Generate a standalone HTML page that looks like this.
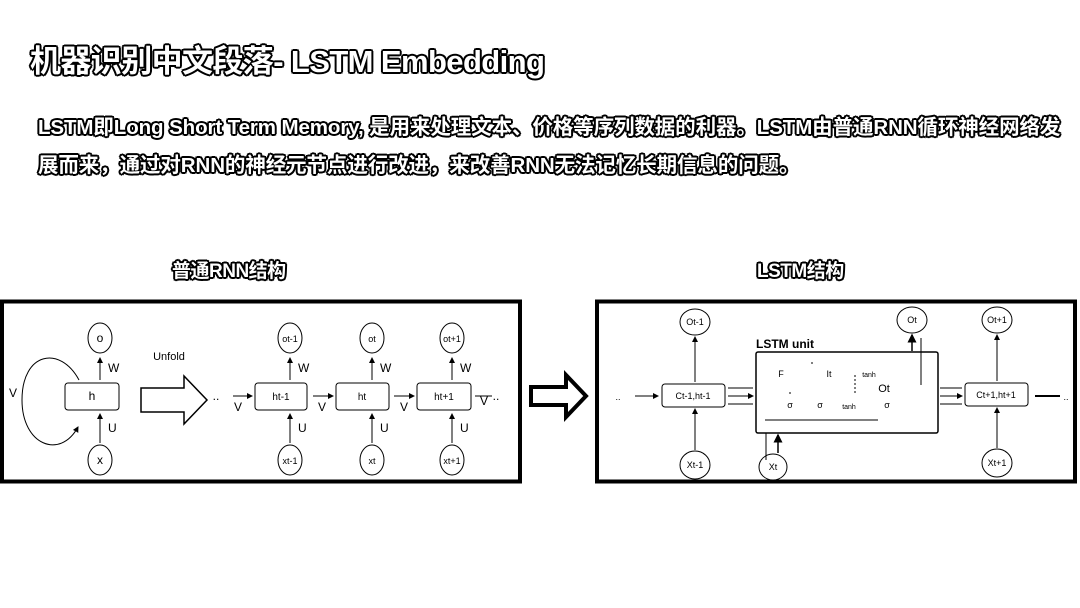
<!DOCTYPE html>
<html><head><meta charset="utf-8">
<style>
html,body{margin:0;padding:0;background:#fff;}
body{width:1080px;height:608px;position:relative;overflow:hidden;font-family:"Liberation Sans","Noto Sans CJK SC",sans-serif;}
.o{position:absolute;color:#fff;font-weight:bold;white-space:nowrap;
text-shadow:-2px 0 #000,2px 0 #000,0 -2px #000,0 2px #000,-1.5px -1.5px #000,1.5px 1.5px #000,-1.5px 1.5px #000,1.5px -1.5px #000;}
svg{position:absolute;left:0;top:0;}
</style></head><body>
<div class="o" style="left:30px;top:36px;font-size:31px;letter-spacing:-0.6px;">机器识别中文段落-&nbsp;LSTM Embedding</div>
<div class="o" style="left:38px;top:110px;font-size:20.5px;letter-spacing:-0.1px;">LSTM即Long Short Term Memory, 是用来处理文本、价格等序列数据的利器。LSTM由普通RNN循环神经网络发</div>
<div class="o" style="left:38px;top:148px;font-size:20.5px;letter-spacing:-0.1px;">展而来，通过对RNN的神经元节点进行改进，来改善RNN无法记忆长期信息的问题。</div>
<div class="o" style="left:172px;top:256px;font-size:19px;letter-spacing:-0.5px;">普通RNN结构</div>
<div class="o" style="left:757px;top:256px;font-size:19px;letter-spacing:-0.5px;">LSTM结构</div>
<svg width="1080" height="608" viewBox="0 0 1080 608" font-family="Liberation Sans, sans-serif">
<defs><marker id="a" markerWidth="6" markerHeight="6" refX="5" refY="3" orient="auto"><path d="M0,0L6,3L0,6z" fill="#000"/></marker></defs>
<g fill="none" stroke="#000">
<rect x="2" y="301.5" width="518" height="180" stroke-width="4"/>
<rect x="597" y="301.5" width="478" height="180" stroke-width="4"/>
<ellipse cx="100" cy="338" rx="12" ry="15"/>
<ellipse cx="100" cy="460" rx="12" ry="15"/>
<rect x="65" y="383" width="54" height="27" rx="3"/>
<path d="M79,380 C60,345 22,352 22,400 C22,445 60,460 78,427" marker-end="url(#a)"/>
<line x1="100" y1="380" x2="100" y2="358" marker-end="url(#a)"/>
<line x1="100" y1="443" x2="100" y2="414" marker-end="url(#a)"/>
<path d="M141,388 L184,388 L184,376 L207,400 L184,424 L184,412 L141,412 Z" stroke-width="1.5"/>
<g>
<rect x="255" y="383" width="52" height="27" rx="3"/>
<rect x="336" y="383" width="53" height="27" rx="3"/>
<rect x="417" y="383" width="54" height="27" rx="3"/>
<ellipse cx="290" cy="338" rx="12" ry="15"/><ellipse cx="290" cy="460" rx="12" ry="15"/>
<ellipse cx="372" cy="338" rx="12" ry="15"/><ellipse cx="372" cy="460" rx="12" ry="15"/>
<ellipse cx="452" cy="338" rx="12" ry="15"/><ellipse cx="452" cy="460" rx="12" ry="15"/>
<line x1="290" y1="380" x2="290" y2="358" marker-end="url(#a)"/><line x1="290" y1="443" x2="290" y2="414" marker-end="url(#a)"/>
<line x1="372" y1="380" x2="372" y2="358" marker-end="url(#a)"/><line x1="372" y1="443" x2="372" y2="414" marker-end="url(#a)"/>
<line x1="452" y1="380" x2="452" y2="358" marker-end="url(#a)"/><line x1="452" y1="443" x2="452" y2="414" marker-end="url(#a)"/>
<line x1="233" y1="396" x2="252" y2="396" marker-end="url(#a)"/>
<line x1="313" y1="396" x2="333" y2="396" marker-end="url(#a)"/>
<line x1="394" y1="396" x2="414" y2="396" marker-end="url(#a)"/>
<line x1="475" y1="396" x2="492" y2="396"/>
</g>
<path d="M531,387 L566,387 L566,375 L586,396 L566,417 L566,405 L531,405 Z" stroke-width="4"/>
<rect x="662" y="384" width="63" height="23" rx="3"/>
<rect x="965" y="383" width="63" height="23" rx="3"/>
<rect x="756" y="352" width="182" height="81" rx="2" stroke-width="1.5"/>
<ellipse cx="695" cy="322" rx="15" ry="13"/><ellipse cx="695" cy="465" rx="15" ry="14"/>
<ellipse cx="912" cy="320" rx="15" ry="13"/><ellipse cx="773" cy="467" rx="14" ry="13"/>
<ellipse cx="997" cy="320" rx="15" ry="13"/><ellipse cx="997" cy="463" rx="15" ry="14"/>
<line x1="695" y1="382" x2="695" y2="337" marker-end="url(#a)"/><line x1="695" y1="450" x2="695" y2="409" marker-end="url(#a)"/>
<line x1="997" y1="381" x2="997" y2="335" marker-end="url(#a)"/><line x1="997" y1="448" x2="997" y2="408" marker-end="url(#a)"/>
<line x1="912" y1="351" x2="912" y2="335" marker-end="url(#a)" stroke-width="1.5"/>
<line x1="778" y1="453" x2="778" y2="435" marker-end="url(#a)" stroke-width="1.5"/>
<line x1="766" y1="433" x2="766" y2="460"/>
<line x1="921" y1="338" x2="921" y2="385"/>
<line x1="635" y1="396" x2="658" y2="396" marker-end="url(#a)"/>
<line x1="1035" y1="396" x2="1060" y2="396" stroke-width="2"/>
<line x1="728" y1="388" x2="753" y2="388"/><line x1="728" y1="396" x2="753" y2="396" marker-end="url(#a)"/><line x1="728" y1="404" x2="753" y2="404"/>
<line x1="940" y1="388" x2="962" y2="388"/><line x1="940" y1="396" x2="962" y2="396" marker-end="url(#a)"/><line x1="940" y1="404" x2="962" y2="404"/>
<line x1="765" y1="420" x2="878" y2="420"/>
<path d="M855,375 v20 M790,392 v4 M812,362 v4" stroke-dasharray="2 2"/>
</g>
<g font-size="12" text-anchor="middle">
<text x="100" y="342">o</text><text x="100" y="464">x</text>
<text x="92" y="400">h</text>
<text x="13" y="397">V</text>
<text x="108" y="372" text-anchor="start">W</text><text x="108" y="432" text-anchor="start">U</text>
<text x="169" y="360" font-size="11">Unfold</text>
<text x="216" y="400">..</text><text x="496" y="400">..</text>
<text x="281" y="400" font-size="10">ht-1</text><text x="362" y="400" font-size="10">ht</text><text x="444" y="400" font-size="10">ht+1</text>
<text x="290" y="342" font-size="9">ot-1</text><text x="372" y="342" font-size="9">ot</text><text x="452" y="342" font-size="9">ot+1</text>
<text x="290" y="464" font-size="9">xt-1</text><text x="372" y="464" font-size="9">xt</text><text x="452" y="464" font-size="9">xt+1</text>
<text x="238" y="411">V</text><text x="322" y="411">V</text><text x="404" y="411">V</text><text x="484" y="405">V</text>
<text x="298" y="372" text-anchor="start">W</text><text x="380" y="372" text-anchor="start">W</text><text x="460" y="372" text-anchor="start">W</text>
<text x="298" y="432" text-anchor="start">U</text><text x="380" y="432" text-anchor="start">U</text><text x="460" y="432" text-anchor="start">U</text>
<g font-size="9">
<text x="695" y="325">Ot-1</text><text x="912" y="323">Ot</text><text x="997" y="323">Ot+1</text>
<text x="695" y="468">Xt-1</text><text x="773" y="470">Xt</text><text x="997" y="466">Xt+1</text>
<text x="693" y="399">Ct-1,ht-1</text><text x="996" y="398">Ct+1,ht+1</text>
<text x="618" y="400">..</text><text x="1066" y="400">..</text>
<text x="781" y="377">F</text><text x="829" y="377">It</text><text x="884" y="392" font-size="11">Ot</text>
<text x="869" y="377" font-size="7">tanh</text><text x="849" y="409" font-size="7">tanh</text>
<text x="790" y="408">σ</text><text x="820" y="408">σ</text><text x="887" y="408">σ</text>
</g>
<text x="756" y="348" font-size="12" font-weight="bold" text-anchor="start">LSTM unit</text>
</g>
</svg>
</body></html>
